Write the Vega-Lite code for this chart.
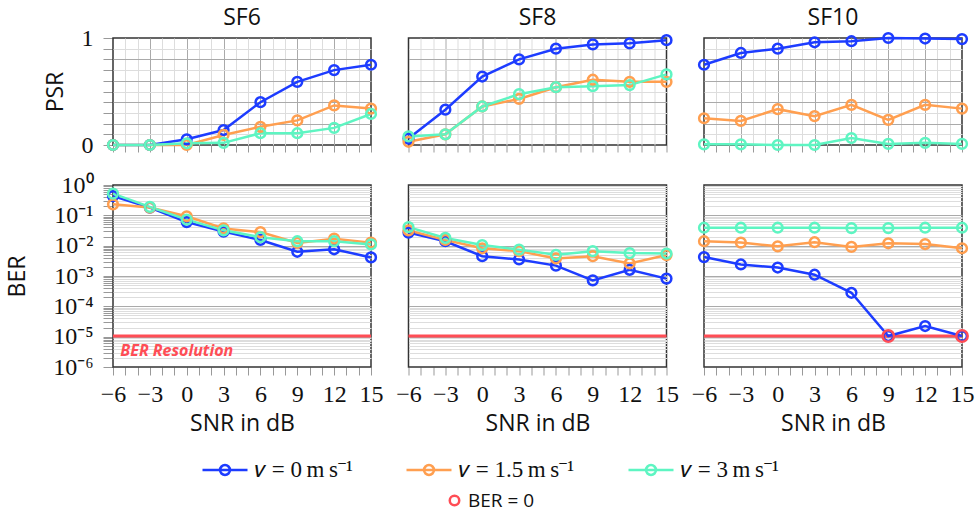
{
  "$schema": "https://vega.github.io/schema/vega-lite/v6.json",
  "padding": {"left": 6, "top": 7, "right": 5, "bottom": 5},
  "datasets": {
    "psr": [
      {"sf":"SF6","v":"0","snr":-6,"psr":0},{"sf":"SF6","v":"0","snr":-3,"psr":0},{"sf":"SF6","v":"0","snr":0,"psr":0.053},{"sf":"SF6","v":"0","snr":3,"psr":0.14},{"sf":"SF6","v":"0","snr":6,"psr":0.40},{"sf":"SF6","v":"0","snr":9,"psr":0.59},{"sf":"SF6","v":"0","snr":12,"psr":0.70},{"sf":"SF6","v":"0","snr":15,"psr":0.75},
      {"sf":"SF8","v":"0","snr":-6,"psr":0.06},{"sf":"SF8","v":"0","snr":-3,"psr":0.33},{"sf":"SF8","v":"0","snr":0,"psr":0.64},{"sf":"SF8","v":"0","snr":3,"psr":0.80},{"sf":"SF8","v":"0","snr":6,"psr":0.90},{"sf":"SF8","v":"0","snr":9,"psr":0.94},{"sf":"SF8","v":"0","snr":12,"psr":0.95},{"sf":"SF8","v":"0","snr":15,"psr":0.98},
      {"sf":"SF10","v":"0","snr":-6,"psr":0.75},{"sf":"SF10","v":"0","snr":-3,"psr":0.86},{"sf":"SF10","v":"0","snr":0,"psr":0.90},{"sf":"SF10","v":"0","snr":3,"psr":0.96},{"sf":"SF10","v":"0","snr":6,"psr":0.97},{"sf":"SF10","v":"0","snr":9,"psr":1.0},{"sf":"SF10","v":"0","snr":12,"psr":0.995},{"sf":"SF10","v":"0","snr":15,"psr":0.99},
      {"sf":"SF6","v":"1.5","snr":-6,"psr":0},{"sf":"SF6","v":"1.5","snr":-3,"psr":0},{"sf":"SF6","v":"1.5","snr":0,"psr":0},{"sf":"SF6","v":"1.5","snr":3,"psr":0.094},{"sf":"SF6","v":"1.5","snr":6,"psr":0.17},{"sf":"SF6","v":"1.5","snr":9,"psr":0.23},{"sf":"SF6","v":"1.5","snr":12,"psr":0.37},{"sf":"SF6","v":"1.5","snr":15,"psr":0.34},
      {"sf":"SF8","v":"1.5","snr":-6,"psr":0.03},{"sf":"SF8","v":"1.5","snr":-3,"psr":0.10},{"sf":"SF8","v":"1.5","snr":0,"psr":0.36},{"sf":"SF8","v":"1.5","snr":3,"psr":0.43},{"sf":"SF8","v":"1.5","snr":6,"psr":0.54},{"sf":"SF8","v":"1.5","snr":9,"psr":0.61},{"sf":"SF8","v":"1.5","snr":12,"psr":0.59},{"sf":"SF8","v":"1.5","snr":15,"psr":0.59},
      {"sf":"SF10","v":"1.5","snr":-6,"psr":0.25},{"sf":"SF10","v":"1.5","snr":-3,"psr":0.225},{"sf":"SF10","v":"1.5","snr":0,"psr":0.335},{"sf":"SF10","v":"1.5","snr":3,"psr":0.27},{"sf":"SF10","v":"1.5","snr":6,"psr":0.375},{"sf":"SF10","v":"1.5","snr":9,"psr":0.235},{"sf":"SF10","v":"1.5","snr":12,"psr":0.375},{"sf":"SF10","v":"1.5","snr":15,"psr":0.34},
      {"sf":"SF6","v":"3","snr":-6,"psr":0},{"sf":"SF6","v":"3","snr":-3,"psr":0},{"sf":"SF6","v":"3","snr":0,"psr":0.016},{"sf":"SF6","v":"3","snr":3,"psr":0.02},{"sf":"SF6","v":"3","snr":6,"psr":0.11},{"sf":"SF6","v":"3","snr":9,"psr":0.11},{"sf":"SF6","v":"3","snr":12,"psr":0.16},{"sf":"SF6","v":"3","snr":15,"psr":0.29},
      {"sf":"SF8","v":"3","snr":-6,"psr":0.08},{"sf":"SF8","v":"3","snr":-3,"psr":0.10},{"sf":"SF8","v":"3","snr":0,"psr":0.36},{"sf":"SF8","v":"3","snr":3,"psr":0.475},{"sf":"SF8","v":"3","snr":6,"psr":0.54},{"sf":"SF8","v":"3","snr":9,"psr":0.55},{"sf":"SF8","v":"3","snr":12,"psr":0.56},{"sf":"SF8","v":"3","snr":15,"psr":0.66},
      {"sf":"SF10","v":"3","snr":-6,"psr":0.006},{"sf":"SF10","v":"3","snr":-3,"psr":0.006},{"sf":"SF10","v":"3","snr":0,"psr":0},{"sf":"SF10","v":"3","snr":3,"psr":0},{"sf":"SF10","v":"3","snr":6,"psr":0.065},{"sf":"SF10","v":"3","snr":9,"psr":0.01},{"sf":"SF10","v":"3","snr":12,"psr":0.02},{"sf":"SF10","v":"3","snr":15,"psr":0.01}
    ],
    "ber": [
      {"sf":"SF6","res":"BER Resolution","ber":1.05e-5},{"sf":"SF8","res":"BER Resolution","ber":1.05e-5},{"sf":"SF10","res":"BER Resolution","ber":1.05e-5},
      {"sf":"SF6","v":"0","snr":-6,"ber":0.43},{"sf":"SF6","v":"0","snr":-3,"ber":0.18},{"sf":"SF6","v":"0","snr":0,"ber":0.06},{"sf":"SF6","v":"0","snr":3,"ber":0.029},{"sf":"SF6","v":"0","snr":6,"ber":0.0154},{"sf":"SF6","v":"0","snr":9,"ber":0.0063},{"sf":"SF6","v":"0","snr":12,"ber":0.0076},{"sf":"SF6","v":"0","snr":15,"ber":0.0041},
      {"sf":"SF8","v":"0","snr":-6,"ber":0.027},{"sf":"SF8","v":"0","snr":-3,"ber":0.014},{"sf":"SF8","v":"0","snr":0,"ber":0.0045},{"sf":"SF8","v":"0","snr":3,"ber":0.0035},{"sf":"SF8","v":"0","snr":6,"ber":0.0022},{"sf":"SF8","v":"0","snr":9,"ber":0.00072},{"sf":"SF8","v":"0","snr":12,"ber":0.0016},{"sf":"SF8","v":"0","snr":15,"ber":0.00082},
      {"sf":"SF10","v":"0","snr":-6,"ber":0.0042},{"sf":"SF10","v":"0","snr":-3,"ber":0.0024},{"sf":"SF10","v":"0","snr":0,"ber":0.0019},{"sf":"SF10","v":"0","snr":3,"ber":0.0011},{"sf":"SF10","v":"0","snr":6,"ber":0.00028},{"sf":"SF10","v":"0","snr":9,"ber":1.05e-5,"zero":"BER = 0"},{"sf":"SF10","v":"0","snr":12,"ber":2.24e-5},{"sf":"SF10","v":"0","snr":15,"ber":1.05e-5,"zero":"BER = 0"},
      {"sf":"SF6","v":"1.5","snr":-6,"ber":0.23},{"sf":"SF6","v":"1.5","snr":-3,"ber":0.18},{"sf":"SF6","v":"1.5","snr":0,"ber":0.093},{"sf":"SF6","v":"1.5","snr":3,"ber":0.037},{"sf":"SF6","v":"1.5","snr":6,"ber":0.028},{"sf":"SF6","v":"1.5","snr":9,"ber":0.0123},{"sf":"SF6","v":"1.5","snr":12,"ber":0.017},{"sf":"SF6","v":"1.5","snr":15,"ber":0.0126},
      {"sf":"SF8","v":"1.5","snr":-6,"ber":0.032},{"sf":"SF8","v":"1.5","snr":-3,"ber":0.0154},{"sf":"SF8","v":"1.5","snr":0,"ber":0.0082},{"sf":"SF8","v":"1.5","snr":3,"ber":0.0066},{"sf":"SF8","v":"1.5","snr":6,"ber":0.0038},{"sf":"SF8","v":"1.5","snr":9,"ber":0.0045},{"sf":"SF8","v":"1.5","snr":12,"ber":0.0026},{"sf":"SF8","v":"1.5","snr":15,"ber":0.0049},
      {"sf":"SF10","v":"1.5","snr":-6,"ber":0.014},{"sf":"SF10","v":"1.5","snr":-3,"ber":0.0126},{"sf":"SF10","v":"1.5","snr":0,"ber":0.0095},{"sf":"SF10","v":"1.5","snr":3,"ber":0.013},{"sf":"SF10","v":"1.5","snr":6,"ber":0.0091},{"sf":"SF10","v":"1.5","snr":9,"ber":0.012},{"sf":"SF10","v":"1.5","snr":12,"ber":0.0113},{"sf":"SF10","v":"1.5","snr":15,"ber":0.0082},
      {"sf":"SF6","v":"3","snr":-6,"ber":0.52},{"sf":"SF6","v":"3","snr":-3,"ber":0.19},{"sf":"SF6","v":"3","snr":0,"ber":0.072},{"sf":"SF6","v":"3","snr":3,"ber":0.032},{"sf":"SF6","v":"3","snr":6,"ber":0.019},{"sf":"SF6","v":"3","snr":9,"ber":0.014},{"sf":"SF6","v":"3","snr":12,"ber":0.014},{"sf":"SF6","v":"3","snr":15,"ber":0.011},
      {"sf":"SF8","v":"3","snr":-6,"ber":0.041},{"sf":"SF8","v":"3","snr":-3,"ber":0.018},{"sf":"SF8","v":"3","snr":0,"ber":0.0105},{"sf":"SF8","v":"3","snr":3,"ber":0.0074},{"sf":"SF8","v":"3","snr":6,"ber":0.005},{"sf":"SF8","v":"3","snr":9,"ber":0.0066},{"sf":"SF8","v":"3","snr":12,"ber":0.0057},{"sf":"SF8","v":"3","snr":15,"ber":0.0055},
      {"sf":"SF10","v":"3","snr":-6,"ber":0.039},{"sf":"SF10","v":"3","snr":-3,"ber":0.039},{"sf":"SF10","v":"3","snr":0,"ber":0.039},{"sf":"SF10","v":"3","snr":3,"ber":0.039},{"sf":"SF10","v":"3","snr":6,"ber":0.038},{"sf":"SF10","v":"3","snr":9,"ber":0.038},{"sf":"SF10","v":"3","snr":12,"ber":0.039},{"sf":"SF10","v":"3","snr":15,"ber":0.039}
    ]
  },
  "vconcat": [
    {
      "data": {"name": "psr"},
      "facet": {"column": {"field": "sf", "type": "nominal", "sort": ["SF6", "SF8", "SF10"], "header": {"title": null, "labelFont": "Open Sans", "labelFontSize": 23, "labelColor": "#111", "labelPadding": 8}}},
      "spacing": 37.5,
      "bounds": "flush",
      "spec": {
        "width": 258,
        "height": 107,
        "layer": [
          {
            "mark": {"type": "line", "strokeWidth": 2.5},
            "encoding": {
              "x": {"field": "snr", "type": "quantitative", "scale": {"domain": [-6, 15], "nice": false, "zero": false},
                "axis": {"values": [-6,-5,-4,-3,-2,-1,0,1,2,3,4,5,6,7,8,9,10,11,12,13,14,15], "tickCount": 100, "labels": false, "title": null, "tickSize": 7, "tickColor": "#999", "domain": false,
                  "gridColor": {"condition": {"test": "datum.value % 3 == 0", "value": "#aaaaaa"}, "value": "#dddddd"},
                  "gridOpacity": {"condition": {"test": "datum.value == -6 || datum.value == 15", "value": 0}, "value": 1}}},
              "y": {"field": "psr", "type": "quantitative", "scale": {"domain": [0, 1], "nice": false},
                "axis": {"values": [0,0.1,0.2,0.3,0.4,0.5,0.6,0.7,0.8,0.9,1], "tickCount": 100, "title": "PSR", "titlePadding": 14, "tickSize": 10, "tickColor": "#999", "labelPadding": 10, "domain": false, "labelOverlap": false, "labelBound": false, "labelFlush": false,
                  "labelExpr": "datum.value == 1 ? '1' : datum.value == 0 ? '0' : ''",
                  "gridColor": {"condition": {"test": "abs(datum.value * 5 - round(datum.value * 5)) < 0.01", "value": "#aaaaaa"}, "value": "#dddddd"},
                  "gridOpacity": {"condition": {"test": "datum.value == 0 || datum.value == 1", "value": 0}, "value": 1}}},
              "color": {"field": "v", "type": "nominal", "scale": {"domain": ["0", "1.5", "3"], "range": ["#1d3cff", "#ff9f50", "#5ef5c2"]},
                "legend": {"title": null, "orient": "bottom", "direction": "horizontal", "symbolType": "M-1,0H1M-0.22,0A0.22,0.22 0 1,1 0.22,0A0.22,0.22 0 1,1 -0.22,0", "symbolSize": 2025, "symbolStrokeWidth": 2.5, "symbolFillColor": "transparent", "labelFont": "Liberation Serif", "labelFontSize": 23, "labelColor": "#111", "columnPadding": 48, "labelOffset": 6,
                  "labelExpr": "'𝑣 = ' + datum.label + '\u2009m\u2009s⁻¹'"}}
            }
          },
          {
            "mark": {"type": "point", "filled": false, "size": 95, "strokeWidth": 2.5, "opacity": 1},
            "encoding": {
              "x": {"field": "snr", "type": "quantitative"},
              "y": {"field": "psr", "type": "quantitative"},
              "color": {"field": "v", "type": "nominal"}
            }
          }
        ]
      }
    },
    {
      "data": {"name": "ber"},
      "facet": {"column": {"field": "sf", "type": "nominal", "sort": ["SF6", "SF8", "SF10"], "header": {"title": null, "labels": false}}},
      "spacing": 37.5,
      "bounds": "flush",
      "spec": {
        "width": 258,
        "height": 182,
        "layer": [
          {
            "transform": [{"filter": "datum.res != null"}],
            "mark": {"type": "rule", "color": "#ff4d55", "strokeWidth": 3},
            "encoding": {
              "y": {"field": "ber", "type": "quantitative", "scale": {"type": "log", "domain": [1e-6, 1], "nice": false},
                "axis": {"values": [1e-6,2e-6,3e-6,4e-6,5e-6,6e-6,7e-6,8e-6,9e-6,1e-5,2e-5,3e-5,4e-5,5e-5,6e-5,7e-5,8e-5,9e-5,1e-4,2e-4,3e-4,4e-4,5e-4,6e-4,7e-4,8e-4,9e-4,1e-3,2e-3,3e-3,4e-3,5e-3,6e-3,7e-3,8e-3,9e-3,1e-2,2e-2,3e-2,4e-2,5e-2,6e-2,7e-2,8e-2,9e-2,0.1,0.2,0.3,0.4,0.5,0.6,0.7,0.8,0.9,1],
                  "tickCount": 100, "title": "BER", "titlePadding": 23, "tickSize": 10, "tickColor": "#999", "labelPadding": 10, "domain": false, "labelOverlap": false, "labelBound": false, "labelFlush": false,
                  "labelExpr": "abs(log(datum.value)/LN10 - round(log(datum.value)/LN10)) < 0.01 ? '10' + (datum.value < 0.5 ? '⁻' + substring('⁰¹²³⁴⁵⁶', round(-log(datum.value)/LN10), round(-log(datum.value)/LN10) + 1) : '⁰') : ''",
                  "gridColor": {"condition": {"test": "abs(log(datum.value)/LN10 - round(log(datum.value)/LN10)) < 0.01", "value": "#aaaaaa"}, "value": "#dddddd"},
                  "gridOpacity": {"condition": {"test": "datum.value < 1.5e-6 || datum.value > 0.95", "value": 0}, "value": 1}}}
            }
          },
          {
            "transform": [{"filter": "datum.res != null && datum.sf == 'SF6'"}],
            "mark": {"type": "text", "color": "#ff4d55", "font": "Open Sans", "fontSize": 16, "fontWeight": "bold", "fontStyle": "italic", "align": "left", "baseline": "top", "dy": 7},
            "encoding": {
              "x": {"datum": -5.4, "type": "quantitative", "scale": {"domain": [-6, 15], "nice": false, "zero": false},
                "axis": {"values": [-6,-5,-4,-3,-2,-1,0,1,2,3,4,5,6,7,8,9,10,11,12,13,14,15], "tickCount": 100, "title": "SNR in dB", "titlePadding": 6, "tickSize": 8, "tickColor": "#999", "domain": false, "labelPadding": 7, "labelOverlap": false, "labelBound": false, "labelFlush": false,
                  "labelExpr": "datum.value % 3 == 0 ? format(datum.value, 'd') : ''",
                  "gridColor": {"condition": {"test": "datum.value % 3 == 0", "value": "#aaaaaa"}, "value": "#dddddd"},
                  "gridOpacity": {"condition": {"test": "datum.value == -6 || datum.value == 15", "value": 0}, "value": 1}}},
              "y": {"field": "ber", "type": "quantitative"},
              "text": {"field": "res"}
            }
          },
          {
            "transform": [{"filter": "datum.v != null"}],
            "mark": {"type": "line", "strokeWidth": 2.5},
            "encoding": {
              "x": {"field": "snr", "type": "quantitative"},
              "y": {"field": "ber", "type": "quantitative"},
              "color": {"field": "v", "type": "nominal"}
            }
          },
          {
            "transform": [{"filter": "datum.v != null"}],
            "mark": {"type": "point", "filled": false, "size": 95, "strokeWidth": 2.5, "opacity": 1},
            "encoding": {
              "x": {"field": "snr", "type": "quantitative"},
              "y": {"field": "ber", "type": "quantitative"},
              "color": {"field": "v", "type": "nominal"}
            }
          },
          {
            "transform": [{"filter": "datum.zero != null"}],
            "mark": {"type": "point", "filled": false, "size": 130, "strokeWidth": 2.5, "opacity": 1},
            "encoding": {
              "x": {"field": "snr", "type": "quantitative"},
              "y": {"field": "ber", "type": "quantitative"},
              "stroke": {"field": "zero", "type": "nominal", "scale": {"range": ["#ff4d55"]},
                "legend": {"title": null, "orient": "bottom", "symbolType": "circle", "symbolSize": 90, "symbolStrokeWidth": 2.5, "labelFont": "Open Sans", "labelFontSize": 19, "labelColor": "#111"}}
            }
          }
        ]
      }
    }
  ],
  "spacing": 16,
  "config": {
    "view": {"stroke": "#333", "strokeWidth": 1.5},
    "axis": {"labelFont": "Liberation Serif", "labelFontSize": 24, "labelColor": "#111", "titleFont": "Open Sans", "titleFontSize": 23, "titleFontWeight": "normal", "titleColor": "#111", "labelOverlap": false},
    "legend": {"offset": 11, "layout": {"bottom": {"anchor": "middle", "direction": "vertical", "center": true, "margin": 9}}}
  }
}
